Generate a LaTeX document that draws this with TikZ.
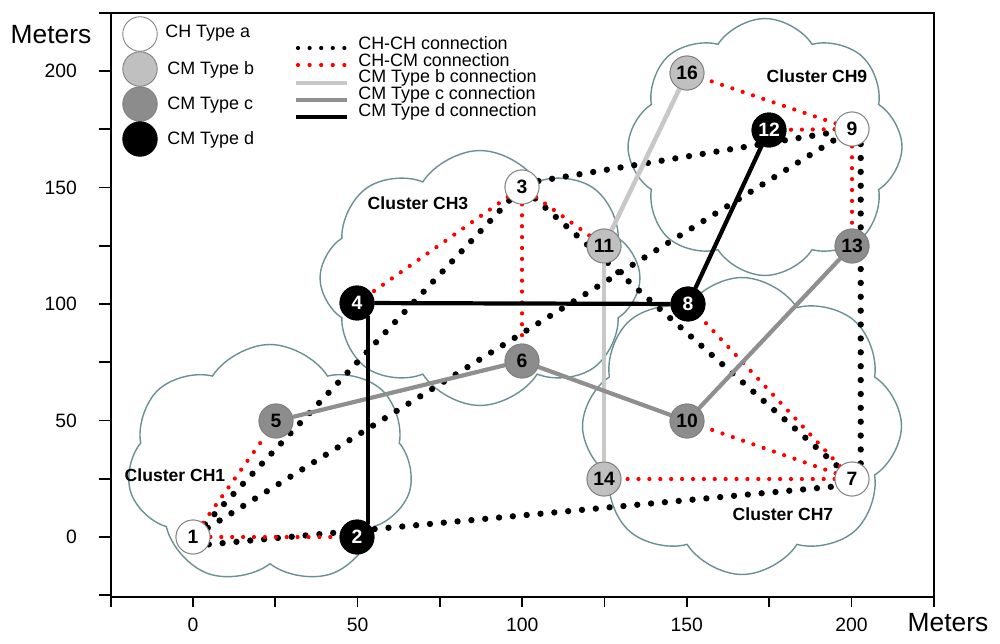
\documentclass[tikz,border=0pt]{standalone}
\usepackage{fontspec}
\setmainfont{Liberation Sans}
\usetikzlibrary{shapes.symbols}
\definecolor{cloudc}{HTML}{6B9094}
\definecolor{typeb}{HTML}{C0C0C0}
\definecolor{typec}{HTML}{8C8C8C}
\definecolor{lineb}{HTML}{C8C8C8}
\definecolor{linec}{HTML}{8F8F8F}
\definecolor{dotred}{HTML}{FF0000}
\begin{document}
\begin{tikzpicture}[x=0.02cm,y=-0.02cm,
  chnode/.style={circle, draw=gray, line width=0.5pt, fill=white, minimum size=0.68cm, inner sep=0pt, font=\fontsize{11}{13}\selectfont\bfseries},
  cmb/.style={chnode, fill=typeb},
  cmc/.style={chnode, fill=typec},
  cmd/.style={chnode, fill=black, draw=black, text=white},
  legcirc/.style={chnode, minimum size=0.69cm},
  chch/.style={black, line width=3.6pt, line cap=round, dash pattern=on 0pt off 7.9pt},
  chcm/.style={dotred, line width=2.4pt, line cap=round, dash pattern=on 0pt off 6.2pt},
  legchch/.style={black, line width=2.4pt, line cap=round, dash pattern=on 0pt off 6.6pt},
  legchcm/.style={dotred, line width=2.4pt, line cap=round, dash pattern=on 0pt off 6.6pt},
  conb/.style={lineb, line width=2.6pt},
  conc/.style={linec, line width=2.4pt},
  cond/.style={black, line width=2.4pt},
  clouds/.style={cloud, draw=cloudc, line width=0.8pt, cloud puffs=8, cloud puff arc=115, inner sep=0pt},
  clab/.style={font=\fontsize{10}{12}\selectfont\bfseries},
  legtext/.style={anchor=west, inner sep=0pt, font=\fontsize{10.2}{11}\selectfont},
  axlab/.style={font=\fontsize{11}{13}\selectfont},
  axname/.style={font=\fontsize{15}{17}\selectfont},
  axtick/.style={line width=1pt}
]
\useasboundingbox (0,0) rectangle (1000,643);

% clouds
\node[clouds, cloud puffs=7, minimum width=5.72cm, minimum height=4.82cm, aspect=1.19] (cl1) at (270,465) {};
\node[clouds, minimum width=6.4cm, minimum height=5.1cm, aspect=1.25] (cl3) at (480,278) {};
\node[clouds, minimum width=5.48cm, minimum height=5.14cm, aspect=1.07] (cl9) at (765,147) {};
\node[clouds, minimum width=6.38cm, minimum height=5.94cm, aspect=1.07] (cl7) at (742,426) {};

% frame
\draw[line width=1.1pt] (111,13) rectangle (934,597);
\foreach \v in {-25,0,...,225} {
  \draw[axtick] ({193+3.292*\v},597) -- ({193+3.292*\v},607);
  \draw[axtick] (111,{537-2.33*\v}) -- (99,{537-2.33*\v});
}
\foreach \v in {0,50,...,200} {
  \node[axlab] (xl\v) at ({193+3.292*\v},625) {\v};
  \node[axlab, anchor=east] (yl\v) at (83,{537-2.33*\v}) {\v};
}
\node[axname] (ym) at (51,35) {Meters};
\node[axname] (xm) at (948,623) {Meters};

% nodes (placed first so connectors can reference them)
\node[chnode] (n1) at (193,537) {1};
\node[cmd] (n2) at (357,537) {2};
\node[chnode] (n3) at (522,187) {3};
\node[cmd] (n4) at (357,303) {4};
\node[cmc] (n5) at (276,421) {5};
\node[cmc] (n6) at (522,361) {6};
\node[chnode] (n7) at (852,479) {7};
\node[cmd] (n8) at (688,304) {8};
\node[chnode] (n9) at (852,129) {9};
\node[cmc] (n10) at (687,421) {10};
\node[cmb] (n11) at (604,246) {11};
\node[cmd] (n12) at (769,130) {12};
\node[cmc] (n13) at (852,246) {13};
\node[cmb] (n14) at (604,479) {14};
\node[cmb] (n16) at (687,73) {16};

% CH-CH connections
\draw[chch] (n1) -- (n3);
\draw[chch] (n1) -- (n9);
\draw[chch] (n1.-25) -- (n7.-155);
\draw[chch] (n3.20) -- (n9.190);
\draw[chch] (n3) -- (n7);
\draw[chch] (n9.-60) -- (n7.60);

% CH-CM connections
\draw[chcm] (n1) -- (n5);
\draw[chcm] (n1) -- (n2);
\draw[chcm] (n3) -- (n4);
\draw[chcm] (n3) -- (n6);
\draw[chcm] (n3) -- (n11);
\draw[chcm] (n9) -- (n16);
\draw[chcm] (n9) -- (n12);
\draw[chcm] (n9) -- (n13);
\draw[chcm] (n7) -- (n8);
\draw[chcm] (n7) -- (n10);
\draw[chcm] (n7) -- (n14);

% CM connections
\draw[conb] (n16) -- (n11);
\draw[conb] (n11) -- (n14);
\draw[conc] (n5) -- (n6);
\draw[conc] (n6) -- (n10);
\draw[conc] (n10) -- (n13);
\draw[cond] (n4) -- (n8);
\draw[cond] (n4.-50) -- (n2.50);
\draw[cond] (n8) -- (n12);

% redraw nodes on top of the connectors
\node[chnode] at (n1) {1};
\node[cmd] at (n2) {2};
\node[chnode] at (n3) {3};
\node[cmd] at (n4) {4};
\node[cmc] at (n5) {5};
\node[cmc] at (n6) {6};
\node[chnode] at (n7) {7};
\node[cmd] at (n8) {8};
\node[chnode] at (n9) {9};
\node[cmc] at (n10) {10};
\node[cmb] at (n11) {11};
\node[cmd] at (n12) {12};
\node[cmc] at (n13) {13};
\node[cmb] at (n14) {14};
\node[cmb] at (n16) {16};

% cluster labels
\node[clab] (c1) at (175,475) {Cluster CH1};
\node[clab] (c3) at (418,203) {Cluster CH3};
\node[clab] (c9) at (817,76) {Cluster CH9};
\node[clab] (c7) at (783,514) {Cluster CH7};

% legend
\node[legcirc] (la) at (140,34) {};
\node[legcirc, fill=typeb] (lb) at (140,69) {};
\node[legcirc, fill=typec] (lc) at (140,104) {};
\node[legcirc, fill=black, draw=black] (ld) at (140,139) {};
\node[legtext] (ta) at (165,33) {CH Type a};
\node[legtext] (tb) at (167,70) {CM Type b};
\node[legtext] (tc) at (167,105) {CM Type c};
\node[legtext] (td) at (167,140) {CM Type d};

\coordinate (a1) at (298,48); \coordinate (a2) at (346,48);
\coordinate (b1) at (298,65); \coordinate (b2) at (346,65);
\coordinate (c1s) at (296,83); \coordinate (c2s) at (347,83);
\coordinate (d1) at (296,100); \coordinate (d2) at (347,100);
\coordinate (e1) at (296,117); \coordinate (e2) at (347,117);
\draw[legchch] (a1) -- (a2);
\draw[legchcm] (b1) -- (b2);
\draw[conb, line width=1.8pt] (c1s) -- (c2s);
\draw[conc, line width=1.8pt] (d1) -- (d2);
\draw[cond, line width=1.8pt] (e1) -- (e2);
\node[legtext] (la1) at (358,43) {CH-CH connection};
\node[legtext] (la2) at (358,60) {CH-CM connection};
\node[legtext] (la3) at (358,77.5) {CM Type b connection};
\node[legtext] (la4) at (358,95) {CM Type c connection};
\node[legtext] (la5) at (358,112) {CM Type d connection};
\end{tikzpicture}
\end{document}
